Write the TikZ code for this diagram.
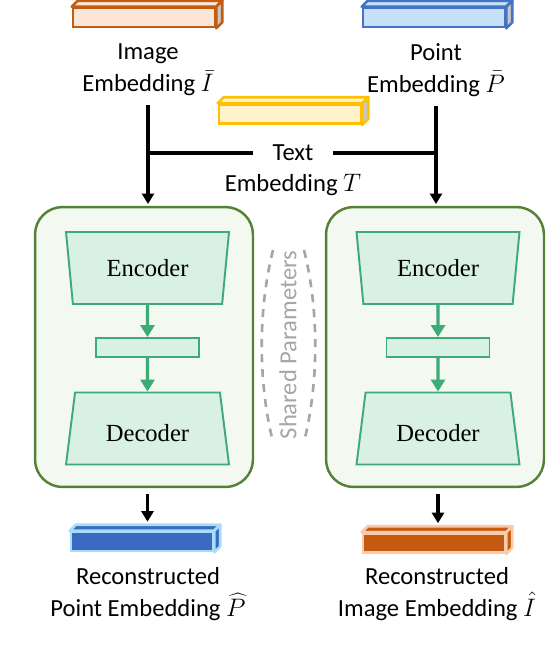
\documentclass[tikz,border=0pt]{standalone}
\usepackage{fontspec}
\setmainfont{Carlito}
\newfontfamily\netfont{Liberation Serif}
\usetikzlibrary{shapes.geometric, arrows.meta, positioning, calc}

\definecolor{imgline}{HTML}{C55A11}
\definecolor{imgfill}{HTML}{FBE5D6}
\definecolor{ptline}{HTML}{4472C4}
\definecolor{ptfill}{HTML}{C5E0F7}
\definecolor{txtline}{HTML}{FFC000}
\definecolor{txtfill}{HTML}{FFF2CC}
\definecolor{recptfill}{HTML}{3A6BC0}
\definecolor{recptline}{HTML}{A9DCF7}
\definecolor{recimgfill}{HTML}{C55A11}
\definecolor{recimgline}{HTML}{F8CBAD}
\definecolor{boxline}{HTML}{548235}
\definecolor{boxfill}{HTML}{F3F9F1}
\definecolor{netline}{HTML}{3DAA77}
\definecolor{netfill}{HTML}{D9F0E4}
\definecolor{sharedgray}{HTML}{A6A6A6}

\begin{document}
\begin{tikzpicture}[x=0.02cm, y=-0.02cm, line width=2pt,
  >={Triangle[width=0.24cm,length=0.21cm]},
  bar/.style={rectangle, draw, line width=1.5pt, minimum width=2.84cm, minimum height=0.38cm, inner sep=0pt},
  lbl/.style={align=center, font=\fontsize{14}{18}\selectfont, inner sep=1pt},
  model/.style={rectangle, rounded corners=0.55cm, draw=boxline, fill=boxfill, line width=1.4pt,
    minimum width=4.36cm, minimum height=5.6cm},
  encoder/.style={trapezium, trapezium stretches body=true, shape border rotate=180, trapezium angle=76.7,
    draw=netline, fill=netfill, line width=1.1pt, minimum width=3.26cm, minimum height=1.44cm,
    font=\netfont\fontsize{14}{16}\selectfont},
  decoder/.style={encoder, shape border rotate=0, text height=0.53cm, text depth=0pt},
  latent/.style={rectangle, draw=netline, fill=netfill, line width=1.1pt, minimum width=2.06cm, minimum height=0.38cm},
  flow/.style={->, draw=netline, line width=1.8pt, >={Triangle[width=0.28cm,length=0.24cm]}}]
  \useasboundingbox (0,0) rectangle (550,646);

  % input embeddings
  \node[bar, draw=imgline, fill=imgfill] (imgbar) at (144,17.5) {};
  \node[bar, draw=ptline, fill=ptfill] (ptbar) at (434,17.5) {};
  \node[bar, draw=txtline, fill=txtfill] (txtbar) at (290,114) {};
  \node[lbl] (imglbl) at (148,70) {Image\\Embedding $\bar{I}$};
  \node[lbl] (ptlbl) at (436,70) {Point\\Embedding $\bar{P}$};
  \node[lbl, inner xsep=0.36cm] (txtword) at (293,153) {Text};
  \node[lbl] (txtemb) at (293,185) {Embedding $T$};

  % the two autoencoders
  \node[model] (modelL) at (144,347) {};
  \node[encoder] (encL) at (147.5,268) {Encoder};
  \node[latent] (latL) at (147.5,347.5) {};
  \node[decoder] (decL) at (147.5,428.5) {Decoder};
  \node[model] (modelR) at (435,347) {};
  \node[encoder] (encR) at (438,268) {Encoder};
  \node[latent] (latR) at (438,347.5) {};
  \node[decoder] (decR) at (438,428.5) {Decoder};

  \draw[flow] (encL) -- (latL);
  \draw[flow] (latL) -- (decL);
  \draw[flow] (encR) -- (latR);
  \draw[flow] (latR) -- (decR);

  % shared parameters
  \node[rotate=90, text=sharedgray, font=\fontsize{14}{16}\selectfont] (shared) at (288,345) {Shared Parameters};
  \draw[sharedgray, line width=1.5pt, dash pattern=on 0.16cm off 0.14cm]
    (273,250) .. controls (258,310) and (258,382) .. (273,442);
  \draw[sharedgray, line width=1.5pt, dash pattern=on 0.16cm off 0.14cm]
    (304,250) .. controls (319,310) and (319,382) .. (304,442);

  % outputs
  \node[bar, draw=recptline, fill=recptfill] (recpt) at (142,541.5) {};
  \node[bar, draw=recimgline, fill=recimgfill] (recimg) at (434,543) {};
  \node[lbl] (recptlbl) at (148,594) {Reconstructed\\Point Embedding $\widehat{P}$};
  \node[lbl] (recimglbl) at (437,594) {Reconstructed\\Image Embedding $\hat{I}$};

  % 3d faces of the embedding bars
  \foreach \b/\f/\l/\s in {imgbar/imgfill/imgline/gray!45, ptbar/ptfill/ptline/gray!45,
      txtbar/txtfill/txtline/gray!45, recpt/recptfill/recptline/recptfill,
      recimg/recimgfill/recimgline/recimgfill} {
    \draw[draw=\l, fill=\f, line width=1.5pt, line join=round]
      (\b.north west) -- ++(6,-6) -- ($(\b.north east)+(6,-6)$) -- (\b.north east) -- cycle;
    \draw[draw=\l, fill=\s, line width=1.5pt, line join=round]
      (\b.north east) -- ++(6,-6) -- ($(\b.south east)+(6,-6)$) -- (\b.south east) -- cycle;
  }

  % connectors
  \draw[->, shorten <=0.12cm, shorten >=1pt] (imglbl.south) -- (imglbl.south |- modelL.north);
  \draw[->, shorten <=0.12cm, shorten >=1pt] (ptlbl.south) -- (ptlbl.south |- modelR.north);
  \draw (txtword.west) -- (txtword.west -| imglbl.south);
  \draw (txtword.east) -- (txtword.east -| ptlbl.south);
  \draw[->, shorten <=0.12cm, shorten >=0.18cm] (modelL.south -| encL) -- (recpt.north -| encL);
  \draw[->, shorten <=0.12cm, shorten >=0.18cm] (modelR.south -| encR) -- (recimg.north -| encR);
\end{tikzpicture}
\end{document}
